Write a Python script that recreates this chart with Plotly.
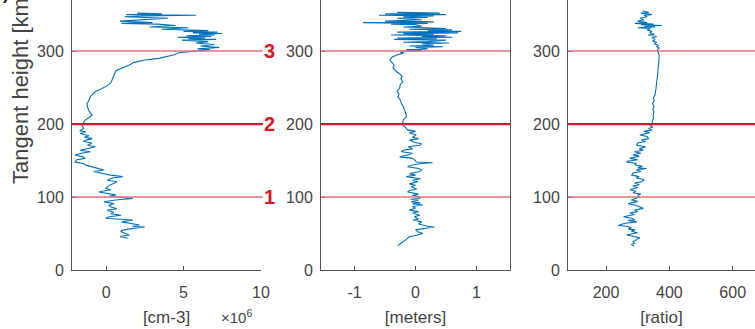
import plotly.graph_objects as go

# ---------------- data ----------------
# Panel 1: density [cm-3] x 1e6 vs tangent height [km]
dens_h = [352, 351, 350, 349, 348, 347, 345, 343, 341, 339, 338, 337, 335, 333, 332, 330, 328, 327, 326, 325,
          324, 323, 322, 321, 320, 319, 318, 317, 316, 315, 313, 311, 309, 307, 305, 304, 303, 302, 301, 300,
          297.7, 295, 293, 290, 287.7, 284.5, 281, 278.5, 275, 273, 269, 265, 260, 256, 253, 250, 247, 244.5, 241, 237.5,
          233, 228, 224, 219, 215, 212, 209, 205.5, 202, 198.6, 196,
          194, 191, 189, 187, 184, 182, 180, 178, 176, 174, 171, 169, 166, 164, 162, 160, 157.5, 155, 153, 151,
          148, 146, 143, 141.5, 139, 137, 135, 133, 130, 128, 126, 123, 121, 119, 116, 112, 110, 107, 105, 103,
          101, 99, 98, 96, 93.5, 91, 88.5, 86.7, 84, 82, 79, 77, 75, 73, 71, 69.5, 68.5, 66, 64, 61.6,
          60, 59, 56, 54, 52.5, 50, 48, 46, 45.6, 43.4]
dens_v = [2.0, 3.6, 1.3, 5.8, 2.4, 1.2, 4.0, 2.2, 0.9, 3.0, 1.0, 3.3, 4.5, 2.8, 5.3, 3.6, 6.6, 5.0, 7.2, 5.6,
          7.5, 6.0, 7.0, 5.2, 6.8, 4.6, 6.4, 5.3, 7.1, 4.9, 6.6, 5.8, 7.0, 6.1, 7.3, 6.6, 5.9, 6.7, 6.2, 5.8,
          4.7, 4.4, 4.0, 3.4, 2.5, 1.8, 1.5, 1.2, 0.8, 0.63, 0.55, 0.48, 0.4, 0.3, 0.1, -0.14, -0.4, -0.69, -0.85, -1.02,
          -1.1, -1.23, -1.2, -1.13, -1.0, -0.9, -1.1, -1.34, -1.45, -1.56, -1.5,
          -1.46, -1.7, -1.3, -1.67, -1.1, -1.4, -0.9, -1.3, -1.46, -0.9, -1.2, -0.69, -1.4, -1.67, -1.02, -1.6, -2.0, -1.5, -1.34, -1.9,
          -2.0, -1.5, -1.2, -0.9, -0.5, -0.14, -0.8, -0.3, 0.3, 1.07, 0.4, 0.08, 0.7, 0.52, 0.2, -0.03, 0.3, -0.47, 0.1, 0.63,
          0.2, 1.2, 1.73, 0.6, -0.14, 0.5, 0.2, 0.3, 0.7, 0.08, 0.5, 0.3, 0.96, 0.2, -0.03, 0.9, 1.73, 1.0, 1.5, 2.16,
          1.7, 2.49, 1.4, 1.0, 0.96, 1.3, 1.5, 0.9, 0.96, 1.4]

# Panel 2: [meters] vs tangent height [km]
met_h = [353, 352, 351, 350, 349, 348, 347, 346, 345, 343, 341, 340, 339, 338, 337, 336, 334, 333, 331, 330,
         329, 328, 327, 326, 325, 324, 323, 322, 321, 320, 319, 318, 317, 316, 315, 313, 312, 311, 310, 308,
         307, 306, 305, 303, 302, 301, 300, 299, 298, 297,
         295, 292, 289, 287.7, 284, 280, 277, 274, 271, 269, 265, 262, 258, 254, 249, 245, 241, 237.5, 233, 228,
         224, 219, 215, 210, 206, 201, 198,
         195, 192, 190, 188, 185, 182, 180, 178, 175, 173, 171, 169, 166, 164, 162, 160, 157.5, 155, 153, 150,
         148, 147, 146, 144, 141.5, 139, 137, 135, 132, 130, 128, 125, 123, 121, 118, 116, 114, 111, 109, 107,
         104, 102, 100, 98, 97, 95.5, 93.5, 92, 91, 89, 87, 85, 82, 80, 78, 75, 73, 70, 68.5, 66,
         63, 60, 59, 57, 55, 52.5, 50, 47, 45.6, 42, 38.8, 36, 33]
met_v = [-0.3, 0.4, -0.5, 0.5, -0.6, 0.3, -0.2, 0.2, -0.3, 0.1, -0.5, 0.3, -0.86, 0.2, -0.4, 0.0, 0.1, -0.2, 0.5, -0.1,
         0.6, 0.2, 0.75, -0.3, 0.7, -0.2, 0.3, -0.4, 0.5, 0.1, 0.6, -0.3, 0.35, -0.35, 0.5, 0.2, -0.2, 0.55, 0.1, 0.3,
         -0.1, 0.45, 0.0, 0.2, -0.15, 0.1, -0.1, -0.22, -0.25, -0.2,
         -0.3, -0.38, -0.42, -0.42, -0.38, -0.35, -0.37, -0.34, -0.3, -0.26, -0.22, -0.24, -0.21, -0.25, -0.26, -0.3, -0.27, -0.29, -0.25, -0.23,
         -0.2, -0.18, -0.16, -0.15, -0.2, -0.21, -0.2,
         -0.16, -0.13, 0.0, -0.1, 0.01, -0.05, 0.05, -0.1, -0.02, 0.1, 0.07, -0.12, -0.05, -0.2, -0.23, -0.05, -0.13, -0.26, -0.05, 0.0,
         0.01, 0.28, 0.1, -0.05, -0.13, 0.05, 0.1, 0.07, -0.1, 0.0, -0.15, 0.08, -0.05, 0.04, -0.1, 0.0, -0.07, 0.02, -0.1, -0.13,
         0.05, -0.05, 0.07, 0.07, -0.08, 0.05, -0.07, 0.08, -0.05, 0.12, -0.05, 0.0, -0.1, 0.05, -0.05, 0.07, -0.02, 0.05, -0.04, 0.1,
         0.05, 0.2, 0.31, 0.1, 0.0, 0.04, 0.12, -0.02, -0.1, -0.15, -0.21, -0.25, -0.29]

# Panel 3: [ratio] vs tangent height [km]
rat_h = [355, 353, 352, 350, 349, 347, 345, 343, 341, 339, 338, 337, 336, 335, 334, 333, 332, 331, 329, 327,
         325, 323, 322, 320, 318, 316, 314, 312, 310, 308, 306, 304, 302, 300,
         297, 293, 288, 284, 280, 276, 271, 267, 263, 258, 254, 249, 244, 240, 236, 232, 228, 224, 220, 216,
         212, 208, 204, 201,
         198, 196, 194, 192, 190, 188, 185, 183, 180, 178, 176, 174, 171, 169, 166, 164, 162, 160, 158, 156,
         153, 151, 149, 148, 146, 144, 142, 140, 139, 137, 135, 133, 130, 128, 126, 124, 121, 119, 117, 115,
         113, 110, 108, 106, 104, 102, 100.5, 98, 96, 94, 91, 89, 87, 84.5, 82, 80, 78, 76, 73, 71,
         69, 68, 66, 64, 62, 61, 60, 58, 56, 55, 53, 51, 49, 48, 46, 44, 43, 41, 39, 37,
         35, 33]
rat_v = [315, 335, 310, 345, 320, 330, 307, 320, 300, 330, 291, 350, 310, 377, 320, 355, 300, 340, 330, 345,
         338, 352, 333, 360, 345, 355, 347, 360, 352, 365, 360, 368, 362, 364,
         366, 368, 367, 368, 366, 365, 365, 364, 362, 360, 360, 358, 356, 355, 350, 352, 347, 352, 348, 351,
         349, 350, 346, 347,
         340, 348, 334, 345, 320, 338, 307, 330, 334, 312, 325, 300, 297, 325, 305, 318, 290, 310, 285, 305,
         275, 300, 268, 265, 295, 292, 315, 300, 328, 295, 310, 285, 281, 305, 295, 320, 313, 290, 305, 285,
         300, 276, 295, 285, 310, 300, 307, 290, 280, 300, 270, 290, 300, 318, 290, 300, 275, 290, 255, 280,
         290, 270, 297, 260, 245, 239, 265, 280, 270, 292, 280, 300, 275, 265, 290, 307, 300, 295, 285, 290,
         281, 288]

ref_heights = [100, 200, 300]
ref_labels = ["1", "2", "3"]
ref_colors = ["#e3707c", "#c81f2d", "#e3707c"]
ref_widths = [1.5, 2.2, 1.5]

x_titles = ["[cm-3]", "[meters]", "[ratio]"]
x1_ticks = [0, 5, 10]
x2_ticks = [-1, 0, 1]
x2_ticktext = ["-1", "0", "1"]
x3_ticks = [200, 400, 600]
y_ticks = [0, 100, 200, 300]

# ---------------- figure ----------------
W, H = 755, 329
LINE = "#0072BD"
AX = "#555555"
FONT = "Liberation Sans, Arial, sans-serif"

fig = go.Figure()
series = [(dens_v, dens_h, "x", "y"), (met_v, met_h, "x2", "y2"), (rat_v, rat_h, "x3", "y3")]
for xv, yv, xa, ya in series:
    fig.add_trace(go.Scatter(x=xv, y=yv, xaxis=xa, yaxis=ya, mode="lines",
                             line=dict(color=LINE, width=1.1), showlegend=False, hoverinfo="skip"))

def px(a):
    return a / W

ydom = [(H - 270) / H, 1.0]
doms = [[px(72), px(261)], [px(321), px(510)], [px(568), 1.0]]
ranges = [[-2.2, 10], [-1.55, 1.55], [80, 80 + 187 / 0.3167]]

common_x = dict(showline=True, linecolor=AX, linewidth=1, ticks="inside", ticklen=4, tickcolor=AX,
                showgrid=False, zeroline=False, tickfont=dict(family=FONT, size=16, color="#444"),
                title_font=dict(family=FONT, size=17, color="#444"), ticklabelstandoff=8, automargin=False)
common_y = dict(showline=True, linecolor=AX, linewidth=1, ticks="inside", ticklen=4, tickcolor=AX,
                showgrid=False, zeroline=False, tickfont=dict(family=FONT, size=16, color="#444"),
                range=[0, 370], tickvals=y_ticks, domain=ydom, ticklabelstandoff=4, automargin=False)

fig.update_layout(
    width=W, height=H, margin=dict(l=0, r=0, t=0, b=0, autoexpand=False),
    paper_bgcolor="white", plot_bgcolor="white",
    xaxis=dict(common_x, domain=doms[0], range=ranges[0], tickvals=x1_ticks, anchor="y",
               title=dict(text=x_titles[0], standoff=10)),
    xaxis2=dict(common_x, domain=doms[1], range=ranges[1], tickvals=x2_ticks, ticktext=x2_ticktext, anchor="y2",
                title=dict(text=x_titles[1], standoff=10)),
    xaxis3=dict(common_x, domain=doms[2], range=ranges[2], tickvals=x3_ticks, anchor="y3",
                title=dict(text=x_titles[2], standoff=10)),
    yaxis=dict(common_y, anchor="x"),
    yaxis2=dict(common_y, anchor="x2", mirror=True),
    yaxis3=dict(common_y, anchor="x3"),
)

shapes = []
annotations = []
for i, xa in enumerate(["x", "x2", "x3"]):
    ya = "y" if i == 0 else f"y{i+1}"
    for h, c, w in zip(ref_heights, ref_colors, ref_widths):
        shapes.append(dict(type="line", xref=f"{xa} domain", yref=ya, x0=0, x1=1.01 if i == 0 else 1,
                           y0=h, y1=h, line=dict(color=c, width=w), layer="above"))
for h, lab in zip(ref_heights, ref_labels):
    annotations.append(dict(text=f"<b>{lab}</b>", xref="x domain", yref="y", x=1.045, y=h,
                            xanchor="center", yanchor="middle", showarrow=False,
                            font=dict(family=FONT, size=20, color="#d7191f")))

annotations.append(dict(text="×10<sup>6</sup>", xref="paper", yref="paper", x=px(219), y=(H - 316) / H,
                        xanchor="left", yanchor="middle", showarrow=False,
                        font=dict(family=FONT, size=15, color="#444")))
annotations.append(dict(text="Tangent height [km]", xref="paper", yref="paper", x=px(20), y=(H - 186) / H,
                        xanchor="center", yanchor="bottom", textangle=-90, showarrow=False,
                        font=dict(family=FONT, size=22, color="#444")))
annotations.append(dict(text="<b>)</b>", xref="paper", yref="paper", x=px(6), y=1.02,
                        xanchor="center", yanchor="middle", showarrow=False,
                        font=dict(family=FONT, size=18, color="#222")))

fig.update_layout(shapes=shapes, annotations=annotations)
fig.write_html("out.html")
